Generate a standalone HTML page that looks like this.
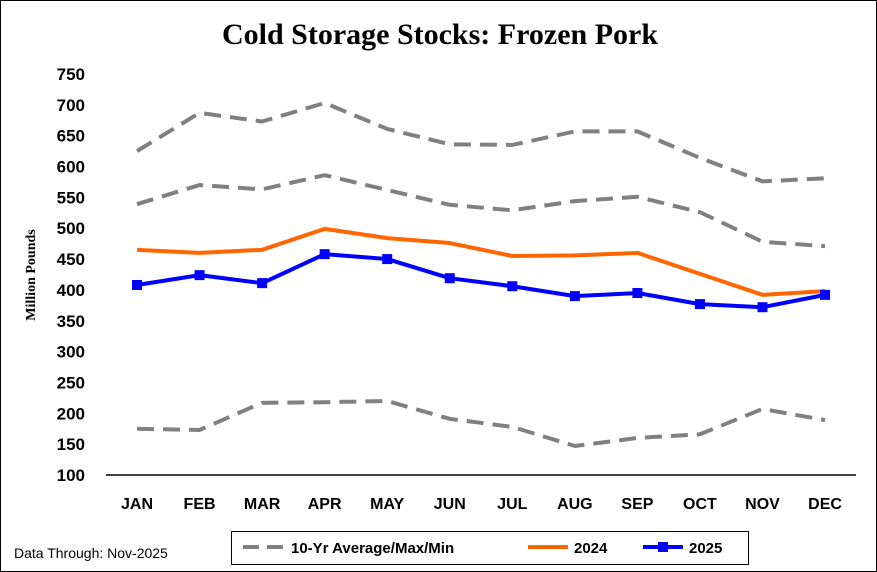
<!DOCTYPE html>
<html><head><meta charset="utf-8"><style>
body{margin:0;background:#fff}
svg{display:block;font-family:"Liberation Sans",sans-serif}
</style></head><body>
<svg id="c" width="877" height="572">
<rect x="0.5" y="0.5" width="876" height="571" fill="#fff" stroke="#000"/>
<text x="440" y="44" text-anchor="middle" font-family="Liberation Serif, serif" font-weight="bold" font-size="30">Cold Storage Stocks: Frozen Pork</text>
<text transform="translate(35,275) rotate(-90)" text-anchor="middle" font-family="Liberation Serif, serif" font-weight="bold" font-size="14">Million Pounds</text>
<g id="grid"></g><g id="series"></g>
<text x="14" y="558" font-size="14">Data Through: Nov-2025</text>
<rect x="231.5" y="531.5" width="517" height="33" fill="#fff" stroke="#000"/>
<g><line x1="243" y1="547" x2="283" y2="547" stroke="#808080" stroke-width="4" stroke-dasharray="16,8"/><text x="291" y="553" font-size="15" font-weight="bold">10-Yr Average/Max/Min</text></g>
<g><line x1="528" y1="547" x2="568" y2="547" stroke="#ff6600" stroke-width="4"/><text x="574" y="553" font-size="15" font-weight="bold">2024</text></g>
<g><line x1="643" y1="547" x2="683" y2="547" stroke="#0000ff" stroke-width="4"/><rect x="658" y="542" width="10" height="10" fill="#0000ff"/><text x="689" y="553" font-size="15" font-weight="bold">2025</text></g>
</svg>
<script>
const months=["JAN","FEB","MAR","APR","MAY","JUN","JUL","AUG","SEP","OCT","NOV","DEC"];
const yTicks=[100,150,200,250,300,350,400,450,500,550,600,650,700,750];
const maxVals=[625,687,673,703,661,636,635,657,657,614,576,581];
const avgVals=[539,570,563,586,562,538,529,544,551,526,478,471];
const minVals=[175,173,217,218,220,191,178,147,160,166,207,189];
const vals2024=[465,460,465,499,484,476,455,456,460,426,392,398];
const vals2025=[408,424,411,458,450,419,406,390,395,377,372,392];
const NS="http://www.w3.org/2000/svg";
const x=i=>137+i*62.55;
const y=v=>475-(v-100)*(401/650);
const grid=document.getElementById('grid'),ser=document.getElementById('series');
function mk(tag,attrs,parent){const e=document.createElementNS(NS,tag);for(const k in attrs)e.setAttribute(k,attrs[k]);parent.appendChild(e);return e;}
yTicks.forEach(t=>{const e=mk('text',{x:85,y:y(t)+6,'text-anchor':'end','font-size':17,'font-weight':'bold'},grid);e.textContent=t;

});
months.forEach((m,i)=>{const e=mk('text',{x:x(i),y:509,'text-anchor':'middle','font-size':16,'font-weight':'bold'},grid);e.textContent=m;

});
const ax=mk('line',{x1:106,y1:475,x2:856,y2:475,stroke:'#000','stroke-width':1.5},grid);


function line(vals,color,dash,name){const p=mk('polyline',{points:vals.map((v,i)=>x(i)+','+y(v)).join(' '),fill:'none',stroke:color,'stroke-width':4,'stroke-linejoin':'round'},ser);
if(dash)p.setAttribute('stroke-dasharray',dash);

return p;}
line(maxVals,'#808080','17,9','max-line');
line(avgVals,'#808080','17,9','average-line');
line(minVals,'#808080','17,9','min-line');
line(vals2024,'#ff6600',null,'line-2024');
line(vals2025,'#0000ff',null,'line-2025');
vals2025.forEach((v,i)=>{const r=mk('rect',{x:x(i)-5,y:y(v)-5,width:10,height:10,fill:'#0000ff'},ser);

});
</script>
</body></html>
